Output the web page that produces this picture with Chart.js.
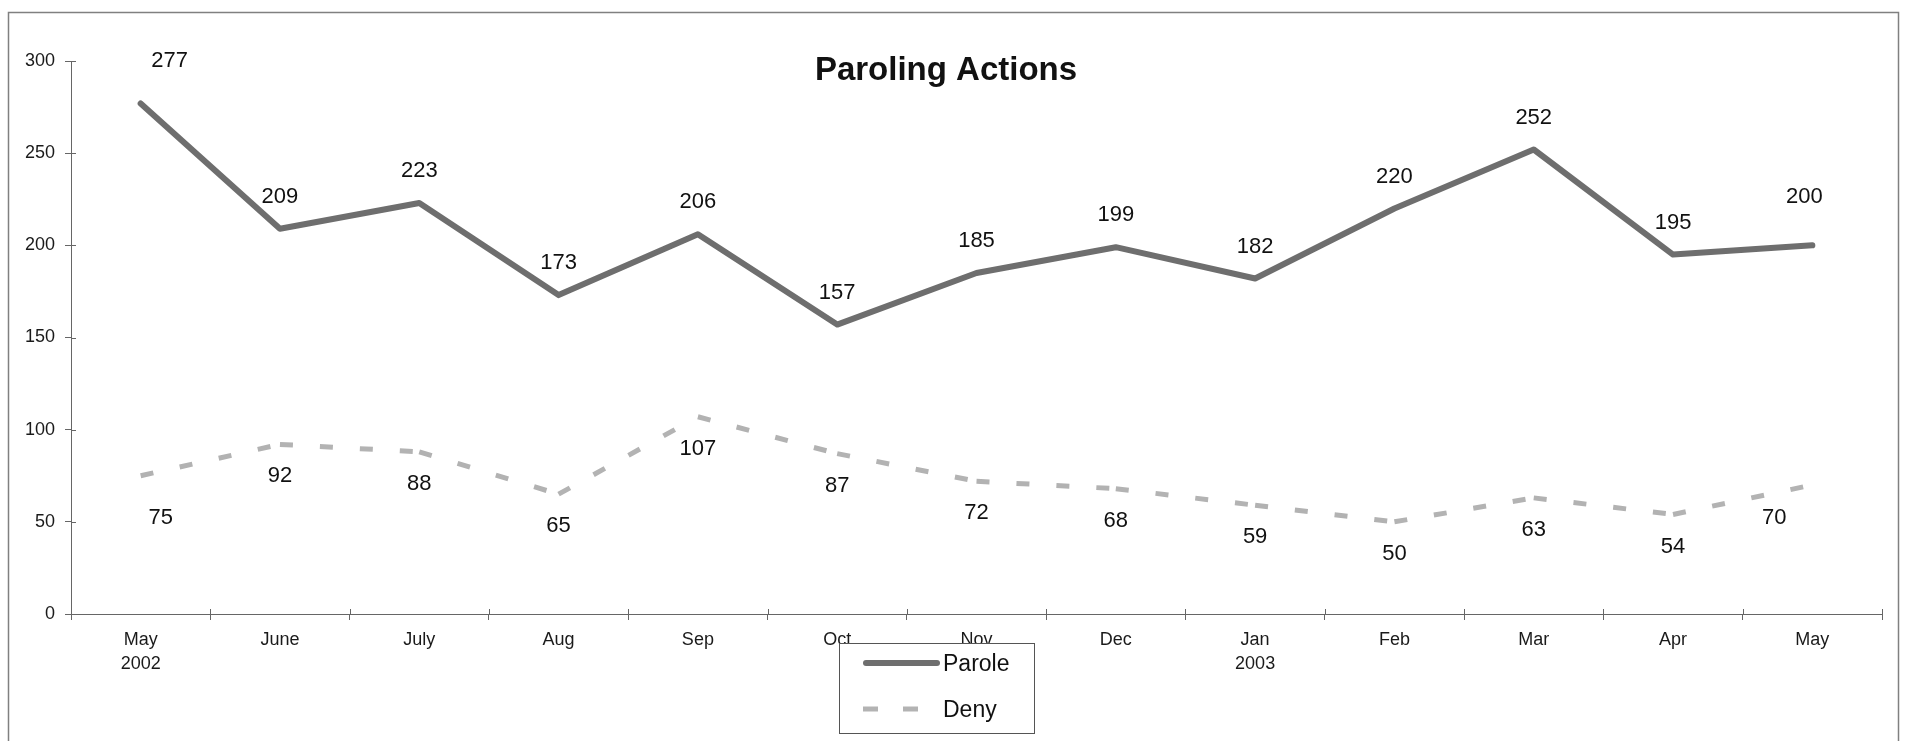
<!DOCTYPE html>
<html><head><meta charset="utf-8">
<script src="https://cdn.jsdelivr.net/npm/chart.js@4/dist/chart.umd.min.js"></script>
<style>html,body{margin:0;padding:0;background:#fff;overflow:hidden}#wrap{width:1906px;height:741px;position:relative}canvas{display:block}</style>
</head><body><div id="wrap"><canvas id="c" width="1906" height="741"></canvas></div>
<script>
const categories = [["May","2002"],"June","July","Aug","Sep","Oct","Nov","Dec",["Jan","2003"],"Feb","Mar","Apr","May"];
const paroleValues = [277,209,223,173,206,157,185,199,182,220,252,195,200];
const denyValues = [75,92,88,65,107,87,72,68,59,50,63,54,70];
const yTicks = [0,50,100,150,200,250,300];
const seriesNames = ["Parole","Deny"];
const chartTitle = "Paroling Actions";

const FONT = '"Liberation Sans", Arial, Helvetica, sans-serif';
Chart.defaults.font.family = FONT;
Chart.defaults.color = '#1a1a1a';

// label placement tweaks (pixels) for end points, as in the original layout
const labelNudges = {
  0: { 0: [29, -10], 12: [-8, -16] },
  1: { 0: [20, 10], 12: [-38, 1] }
};

const framePlugin = {
  id: 'frame',
  beforeDraw(chart) {
    const ctx = chart.ctx;
    ctx.save();
    ctx.fillStyle = '#fff';
    ctx.fillRect(0, 0, chart.width, chart.height);
    ctx.strokeStyle = '#808080';
    ctx.lineWidth = 1.5;
    ctx.strokeRect(8.5, 12.5, 1890, 800);
    ctx.restore();
  }
};

const innerTicksPlugin = {
  id: 'innerTicks',
  afterDraw(chart) {
    const ctx = chart.ctx, xs = chart.scales.x, ys = chart.scales.y;
    ctx.save();
    ctx.strokeStyle = '#666';
    ctx.lineWidth = 1;
    ctx.beginPath();
    const n = xs.ticks.length;
    for (let i = 0; i <= n; i++) {
      const x = Math.round(xs.left + i * (xs.right - xs.left) / n) + 0.5;
      ctx.moveTo(x, ys.bottom);
      ctx.lineTo(x, ys.bottom - 5);
    }
    ys.ticks.forEach(t => {
      const y = Math.round(ys.getPixelForValue(t.value)) + 0.5;
      ctx.moveTo(xs.left, y);
      ctx.lineTo(xs.left + 5, y);
    });
    ctx.stroke();
    ctx.restore();
  }
};

const labelPlugin = {
  id: 'valueLabels',
  afterDatasetsDraw(chart) {
    const ctx = chart.ctx;
    ctx.save();
    ctx.font = '22px ' + FONT;
    ctx.fillStyle = '#111';
    ctx.textAlign = 'center';
    ctx.textBaseline = 'middle';
    chart.data.datasets.forEach((ds, i) => {
      const meta = chart.getDatasetMeta(i);
      const off = ds.labelSide === 'above' ? -32 : 32;
      meta.data.forEach((pt, j) => {
        const nd = (labelNudges[i] && labelNudges[i][j]) || [0, 0];
        ctx.fillText(String(ds.data[j]), pt.x + nd[0], pt.y + off + nd[1]);
      });
    });
    ctx.restore();
  }
};

const titleLegendPlugin = {
  id: 'titleLegend',
  afterDraw(chart) {
    const ctx = chart.ctx;
    ctx.save();
    ctx.font = 'bold 33px ' + FONT;
    ctx.fillStyle = '#111';
    ctx.textAlign = 'center';
    ctx.textBaseline = 'alphabetic';
    ctx.fillText(chartTitle, 946, 80);

    const bx = 839.5, by = 643.5, bw = 195, bh = 90;
    ctx.fillStyle = '#fff';
    ctx.fillRect(bx, by, bw, bh);
    ctx.strokeStyle = '#555';
    ctx.lineWidth = 1;
    ctx.strokeRect(bx, by, bw, bh);
    const rows = [663, 709];
    chart.data.datasets.forEach((ds, i) => {
      const y = rows[i];
      ctx.save();
      ctx.strokeStyle = ds.borderColor;
      ctx.lineWidth = ds.borderWidth;
      ctx.lineCap = ds.borderDash ? 'butt' : 'round';
      ctx.setLineDash(ds.borderDash ? [15, 25] : []);
      ctx.beginPath();
      ctx.moveTo(ds.borderDash ? 863 : 866, y);
      ctx.lineTo(ds.borderDash ? 940 : 937, y);
      ctx.stroke();
      ctx.restore();
      ctx.font = '23px ' + FONT;
      ctx.fillStyle = '#111';
      ctx.textAlign = 'left';
      ctx.textBaseline = 'middle';
      ctx.fillText(ds.label, 943, y + 2);
    });
    ctx.restore();
  }
};

new Chart(document.getElementById('c'), {
  type: 'line',
  data: {
    labels: categories,
    datasets: [
      {
        label: seriesNames[0], data: paroleValues, labelSide: 'above',
        borderColor: '#6e6e6e', borderWidth: 6, tension: 0,
        borderJoinStyle: 'round', borderCapStyle: 'round',
        pointRadius: 0, fill: false
      },
      {
        label: seriesNames[1], data: denyValues, labelSide: 'below',
        borderColor: '#b3b3b3', borderWidth: 5, tension: 0,
        borderDash: [13, 27], borderCapStyle: 'butt',
        // alternate an imperceptible colour shift so each segment is stroked
        // separately and the dash pattern restarts at every point
        segment: { borderColor: c => (c.p0DataIndex % 2 ? '#b3b3b3' : '#b2b2b2') },
        pointRadius: 0, fill: false
      }
    ]
  },
  options: {
    responsive: false,
    animation: false,
    devicePixelRatio: 1,
    layout: { padding: { top: 61, right: 24, left: 0, bottom: 0 } },
    plugins: { legend: { display: false }, title: { display: false }, tooltip: { enabled: false } },
    scales: {
      x: {
        type: 'category', offset: true,
        grid: { offset: true, drawOnChartArea: false, drawTicks: true, tickLength: 6, color: '#666' },
        border: { display: true, color: '#666', width: 1 },
        ticks: { font: { size: 18, lineHeight: 1.28 }, color: '#1a1a1a', padding: 9, maxRotation: 0, autoSkip: false },
        afterFit(s) { s.height = 127; }
      },
      y: {
        min: 0, max: 300,
        afterBuildTicks(s) { s.ticks = yTicks.map(v => ({ value: v })); },
        grid: { drawOnChartArea: false, drawTicks: true, tickLength: 6, color: '#666' },
        border: { display: true, color: '#666', width: 1 },
        ticks: { font: { size: 18 }, color: '#1a1a1a', padding: 10 },
        afterFit(s) { s.width = 71; }
      }
    }
  },
  plugins: [framePlugin, innerTicksPlugin, labelPlugin, titleLegendPlugin]
});
</script>
</body></html>
